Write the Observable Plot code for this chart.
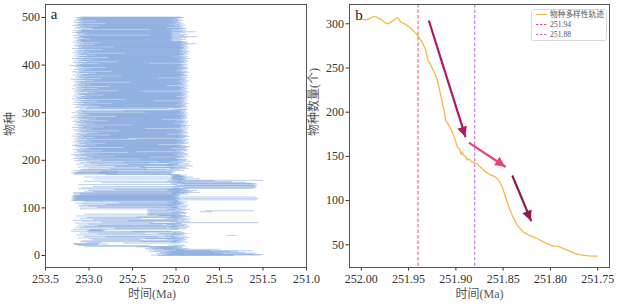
<!DOCTYPE html>
<html><head><meta charset="utf-8">
<script src="https://cdn.jsdelivr.net/npm/d3@7"></script>
<script src="https://cdn.jsdelivr.net/npm/@observablehq/plot@0.6"></script>
<style>
body{margin:0;background:#fff;}
#wrap{position:relative;width:621px;height:308px;overflow:hidden;background:#fff;}
.panel{position:absolute;top:0;}
.panel svg{overflow:visible;background:transparent;}
#legend{position:absolute;left:531px;top:9px;}
</style></head><body><div id="wrap"><div id="pa" class="panel" style="left:0"></div><div id="pb" class="panel" style="left:300px"></div></div>
<script>
// ---------- Panel a: species ranges (FAD = first appearance, LAD = last appearance, Ma) ----------
const speciesFAD = [
252.20,252.28,252.10,252.15,252.22,252.05,252.18,252.12,252.30,252.08,252.25,252.00,252.32,252.14,252.27,252.35,252.20,252.30,
252.45,253.05,252.02,253.12,252.08,253.17,253.15,253.18,252.60,253.02,252.05,253.10,252.40,
253.08,252.03,252.95,252.10,253.00,252.35,253.12,252.06,252.80,253.05,252.12,251.41,253.14,252.04,252.90,252.20,253.10,252.02,253.00,252.50,
253.20,253.02,253.00,252.98,253.18,252.05,252.70,253.10,252.08,253.15,
253.05,252.04,252.90,253.12,252.10,253.00,252.30,253.16,252.00,252.85,252.06,253.08,252.55,253.18,252.03,252.95,252.12,253.10,252.08,253.02,252.45,252.05,253.14,252.20,
252.33,252.32,253.05,252.33,252.30,252.04,252.33,251.72,252.31,251.66,252.33,252.32,252.10,253.10,252.33,252.05,252.90,
253.10,252.06,253.00,253.12,252.10,252.80,253.08,252.04,253.15,252.65,252.08,253.05,252.02,253.18,
253.20,253.18,253.15,253.19,253.17,253.20,253.14,253.18,253.16,253.19,253.15,253.18,253.10,252.05,253.17,
253.10,253.18,252.04,252.95,253.05,252.08,253.00,252.10,252.70,253.12,
252.05,253.08,251.92,252.02,252.95,251.95,252.00,251.90,253.12,252.03,251.93,252.06,252.85,251.98,252.10,253.05,251.97,252.08,
252.04,252.02,252.95,252.06,252.03,252.05,253.05,252.04,252.02,252.06,252.03,252.80,
253.18,253.16,252.88,253.20,253.15,253.12,252.85,253.18,252.08,253.10,
253.08,252.75,252.06,253.00,252.40,253.12,252.70,252.10,253.05,252.90,252.55,253.14,252.08,252.98,253.10,252.60,253.02,252.20,253.16,252.85,
253.12,253.05,252.40,253.18,253.10,252.95,253.15,253.02,252.70,253.16,
253.08,253.20,252.90,253.11,253.04,252.55,253.17,253.09,253.13,252.85,
253.14,253.06,253.18,252.98,253.10,253.01,252.60,253.15,253.12,253.07,
253.19,252.92,253.03,253.16,253.10,252.80,253.13,253.05,253.18,252.97,
253.11,253.15,253.02,252.45,253.17,253.08,253.12,252.93,253.14,253.06,
253.20,253.09,252.75,253.13,253.04,253.16,253.00,252.88,253.11,253.07,
253.15,252.65,253.10,253.18,253.03,252.96,253.12,253.08,253.19,252.82,
253.06,253.14,253.11,252.50,253.17,253.02,253.09,252.94,253.15,253.13,
253.05,253.18,252.78,253.10,253.16,253.01,252.91,253.12,253.07,253.20,
253.14,252.68,253.09,253.17,253.04,252.99,253.13,253.11,253.06,253.19,
252.35,253.08,253.15,252.60,253.12,252.05,251.98,253.10,253.03,252.02,
253.16,253.00,252.87,253.14,253.09,252.95,253.18,253.11,253.05,252.72,
253.13,253.17,253.07,252.90,253.10,253.15,253.02,252.58,253.19,253.12,
253.06,253.14,252.97,253.09,253.18,253.04,252.83,253.11,253.16,253.08,
253.13,252.93,253.01,253.17,253.10,252.66,253.15,253.07,253.12,253.19,
252.89,253.05,253.14,253.09,252.76,253.18,253.11,253.03,253.16,252.98,
253.12,253.08,253.15,252.52,253.10,253.17,253.04,252.94,253.13,253.20,
253.07,252.85,253.16,253.11,253.02,253.14,252.62,253.09,253.18,253.06,
253.13,253.00,252.91,253.15,253.10,253.19,252.73,253.08,253.12,253.04,
253.17,252.96,253.11,253.14,252.80,253.06,253.16,253.09,253.22,253.13,
253.10,253.15,252.88,253.07,253.18,253.12,252.67,253.03,253.16,253.11,
253.08,252.95,253.14,253.19,253.05,252.78,253.13,253.10,253.17,253.02,
252.92,253.15,253.09,253.12,252.58,253.18,253.06,253.14,252.99,253.11,
253.16,253.04,252.84,253.13,253.19,253.08,253.11,252.70,253.15,253.07,
253.12,253.17,252.94,253.10,253.14,253.05,252.86,253.18,253.09,253.13,
253.09,253.16,253.13,253.11,252.98,253.07,253.17,253.14,253.06,253.10,
253.11,253.18,252.29,253.05,253.14,253.12,253.02,253.15,253.19,253.09,
253.13,253.08,253.17,253.08,252.30,253.11,252.95,253.16,253.04,253.14,
253.10,252.88,253.18,253.07,253.12,253.15,252.80,253.09,253.13,253.17,
253.06,253.11,252.92,253.16,253.10,253.14,253.08,253.12,253.05,253.15,253.10
];
const speciesLAD = [
251.33,251.02,251.00,251.10,251.45,251.07,251.20,251.55,251.28,251.38,251.12,251.60,251.90,251.48,251.95,251.85,252.02,251.92,
251.93,251.98,251.88,252.30,251.90,252.90,252.78,252.88,251.95,252.85,251.86,251.99,251.92,
251.96,251.89,252.40,251.87,251.94,251.90,252.00,251.84,252.20,251.97,251.88,251.30,252.02,251.91,251.95,251.86,252.35,251.90,252.00,251.93,
252.05,252.82,252.85,252.80,251.98,251.88,251.95,252.10,251.85,252.00,
251.96,251.84,251.90,252.15,251.87,252.00,251.92,251.94,251.05,252.25,251.83,251.98,251.90,252.05,251.86,251.97,251.82,252.40,251.89,251.95,251.91,251.84,252.00,251.88,
251.92,251.95,252.33,251.88,251.97,251.86,251.90,251.58,251.93,251.10,251.89,252.00,251.83,252.33,251.94,251.88,251.98,
251.97,251.87,252.05,251.99,251.85,251.96,251.93,251.90,252.00,251.94,251.86,251.98,251.92,251.96,
251.98,251.06,252.00,251.95,251.05,251.99,251.96,251.08,252.01,251.97,251.95,251.99,251.94,251.85,251.98,
251.90,251.72,251.86,251.80,251.95,251.84,251.75,251.88,251.92,251.85,
251.10,251.96,251.08,251.07,251.94,251.09,251.07,251.10,251.98,251.06,251.08,251.12,251.90,251.20,251.35,251.95,251.55,250.99,
251.88,251.92,251.72,251.90,251.86,251.93,251.80,251.89,251.91,251.94,251.87,251.95,
252.03,252.05,252.68,252.02,252.06,252.00,252.65,252.04,251.90,252.10,
251.95,252.33,251.85,252.00,251.88,251.92,252.35,251.80,252.02,251.85,251.96,251.98,251.83,252.30,251.94,251.90,252.05,251.82,251.97,251.88,
251.92,251.86,251.97,252.00,251.88,251.95,252.30,251.90,251.84,251.98,
251.93,251.87,252.02,251.85,251.96,251.91,251.89,252.45,251.94,251.87,
251.99,251.85,251.92,251.88,252.05,251.90,251.86,251.97,251.83,251.93,
251.88,251.95,252.20,251.91,251.86,251.99,251.90,251.84,251.94,251.89,
251.92,251.87,251.98,251.85,251.93,252.55,251.90,251.88,251.96,251.84,
251.91,251.86,251.95,251.89,252.10,251.93,251.85,251.97,251.88,251.92,
251.86,251.94,251.90,251.99,251.87,251.92,252.35,251.85,251.95,251.89,
251.93,251.88,251.84,251.96,251.91,251.87,251.94,252.02,251.86,251.90,
251.92,251.85,251.98,251.89,251.93,252.15,251.88,251.91,251.86,251.95,
251.90,251.87,251.94,251.88,251.92,251.85,251.97,251.89,251.93,251.86,
251.90,251.95,251.88,251.92,251.96,251.88,251.86,251.99,252.08,251.87,
251.93,251.97,251.89,251.86,251.91,252.00,251.88,251.94,251.85,251.92,
251.96,251.89,251.87,251.93,252.25,251.90,251.86,251.95,251.91,251.88,
251.94,251.87,251.92,251.99,251.85,251.90,251.96,251.88,251.93,251.86,
251.91,251.95,251.88,251.84,252.40,251.92,251.87,251.97,251.89,251.93,
251.86,251.94,251.90,251.88,251.95,251.85,252.10,251.91,251.87,251.96,
251.89,251.93,251.86,251.92,251.97,251.88,251.84,251.95,251.90,251.87,
251.94,251.89,252.20,251.86,251.92,251.96,251.88,251.85,251.93,251.90,
251.87,251.95,251.91,251.84,251.89,251.94,251.86,252.00,251.92,251.88,
251.96,251.90,251.85,251.93,251.87,251.98,251.91,251.86,251.95,251.89,
251.92,251.86,251.94,252.30,251.88,251.93,251.90,251.85,251.97,251.87,
251.91,251.95,251.88,251.84,251.93,251.89,252.05,251.86,251.92,251.96,
251.87,251.90,251.94,251.85,251.91,251.88,251.96,251.83,251.92,251.86,
251.93,251.89,251.95,251.87,251.91,251.84,251.90,251.94,251.86,251.92,
251.88,251.95,251.90,251.85,251.76,251.93,251.87,251.92,251.86,251.91,
252.04,251.94,252.06,251.88,252.05,251.93,252.03,251.87,252.05,251.75,
252.04,251.90,252.06,251.86,252.03,251.95,252.05,251.89,252.04,251.77,
251.92,252.05,251.88,251.96,252.04,251.91,251.87,251.94,252.10,251.90,
251.96,251.93,252.02,251.89,251.95,252.08,251.91,252.00,251.94,251.97,
252.03,251.95,251.98,251.92,252.05,251.97,251.93,252.00,251.96,251.90,251.94
];
const xTicksA = [253.5, 253.0, 252.5, 252.0, 251.5, 251.0, 250.5];
const xTickLabelsA = ["253.5", "253.0", "252.5", "252.0", "251.5", "251.5", "251.0"];
const yTicksA = [0, 100, 200, 300, 400, 500];

// ---------- Panel b: diversity trajectory ----------
const curveTime = [252.000,251.995,251.990,251.9868,251.984,251.9815,251.979,251.9765,251.9745,251.9726,251.970,251.9673,251.964,251.962,251.960,251.9585,251.955,251.9514,251.9461,251.943,251.9408,251.938,251.9356,251.9321,251.9306,251.9296,251.9268,251.9233,251.9197,251.9172,251.9144,251.912,251.9109,251.9074,251.9038,251.9003,251.8982,251.896,251.8945,251.8932,251.8915,251.8897,251.888,251.8862,251.8835,251.8809,251.8774,251.875,251.8721,251.869,251.8651,251.861,251.858,251.8545,251.8509,251.8474,251.8439,251.8403,251.835,251.830,251.828,251.823,251.8175,251.812,251.8069,251.801,251.7963,251.791,251.7857,251.780,251.775,251.768,251.7596,251.7504];
const curveCount = [305,304.5,306.5,308.5,307.5,306,305,302.5,301,300,301,303,305,307,305,302,300.5,298,293.5,290,287,283,279,271,264,259,254,246,237,225,211,200,191,185,178,167,160,158,152,155,151,150,146,147,144,143,141.5,139,136,133,130,128,126.5,122.7,115,104,92.6,83,72,66,64,61,58.6,56,53,50,48.4,48,45.4,43,40.5,38.7,37.5,37.2];
const eventTimes = [251.94, 251.88];
const eventColors = ["#e6505f", "#b46ac8"];
const xTicksB = [252.00, 251.95, 251.90, 251.85, 251.80, 251.75];
const yTicksB = [50, 100, 150, 200, 250, 300];
const arrowT1 = [251.9286, 251.8862, 251.8403];
const arrowN1 = [303.7, 165.5, 128.4];
const arrowT2 = [251.8897, 251.8474, 251.8202];
const arrowN2 = [171.7, 138.0, 76.7];
const arrowColors = ["#b3175d", "#e8407f", "#8e1b4f"];

const serif = "'Liberation Serif','Times New Roman',serif";
const cjk = "'Liberation Serif','Noto Sans CJK SC',serif";

const species = speciesFAD.map((f, i) => ({s: i, fad: f, lad: speciesLAD[i]}));

const plotA = Plot.plot({
  width: 310, height: 308,
  marginLeft: 45, marginRight: 4, marginTop: 4, marginBottom: 41,
  style: {fontFamily: serif, fontSize: "12px", color: "#333", background: "transparent", overflow: "visible"},
  x: {domain: [253.5, 250.5], ticks: xTicksA, tickFormat: d => xTickLabelsA[xTicksA.indexOf(d)], tickSize: 3.5, tickPadding: 3, label: null},
  y: {domain: [-25.2, 527.3], ticks: yTicksA, tickSize: 3.5, tickPadding: 2, label: null},
  marks: [
    Plot.ruleY(species, {y: "s", x1: "fad", x2: "lad", stroke: "#4f84d0", strokeOpacity: 0.46, strokeWidth: 0.85}),
    Plot.frame({stroke: "#555"}),
    Plot.text(["a"], {frameAnchor: "top-left", dx: 8.5, dy: 10, textAnchor: "middle", lineAnchor: "middle", fontSize: 15, fill: "#222"}),
    Plot.text(["物种"], {frameAnchor: "left", dx: -35, rotate: -90, fontFamily: cjk, fontSize: 12, fill: "#555"}),
    Plot.text(["时间(Ma)"], {frameAnchor: "bottom", dx: -24, dy: 30, fontFamily: cjk, fontSize: 12, fill: "#555"})
  ]
});
document.getElementById("pa").appendChild(plotA);

const curve = curveTime.map((t, i) => ({t, n: curveCount[i]}));
const events = eventTimes.map((t, i) => ({t, c: eventColors[i]}));
const arrows = arrowT1.map((t, i) => ({t1: t, n1: arrowN1[i], t2: arrowT2[i], n2: arrowN2[i], c: arrowColors[i]}));

function arrowHeads(index, scales) {
  const g = d3.create("svg:g");
  arrows.forEach(a => {
    const x0 = scales.x(a.t1), y0 = scales.y(a.n1);
    const x1 = scales.x(a.t2), y1 = scales.y(a.n2);
    const ang = Math.atan2(y1 - y0, x1 - x0);
    const L = 10, W = 5;
    const bx = x1 - L * Math.cos(ang), by = y1 - L * Math.sin(ang);
    const px = -Math.sin(ang) * W, py = Math.cos(ang) * W;
    g.append("path").attr("d", `M${x1},${y1}L${bx + px},${by + py}L${bx - px},${by - py}Z`).attr("fill", a.c);
  });
  return g.node();
}

const plotB = Plot.plot({
  width: 321, height: 308,
  marginLeft: 49, marginRight: 12, marginTop: 4, marginBottom: 41,
  style: {fontFamily: serif, fontSize: "12px", color: "#333", background: "transparent", overflow: "visible"},
  x: {domain: [252.0125, 251.7375], ticks: xTicksB, tickFormat: d3.format(".2f"), tickSize: 3.5, tickPadding: 3, label: null},
  y: {domain: [24.3, 321.8], ticks: yTicksB, tickSize: 3.5, tickPadding: 2, label: null},
  marks: [
    Plot.ruleX(events, {x: "t", stroke: "c", strokeWidth: 1, strokeDasharray: "3.5,2"}),
    Plot.line(curve, {x: "t", y: "n", stroke: "#f3b946", strokeWidth: 1.3}),
    Plot.link(arrows, {x1: "t1", y1: "n1", x2: "t2", y2: "n2", stroke: "c", strokeWidth: 2.2}),
    arrowHeads,
    Plot.frame({stroke: "#555"}),
    Plot.text(["b"], {frameAnchor: "top-left", dx: 9.5, dy: 10.5, textAnchor: "middle", lineAnchor: "middle", fontSize: 15, fill: "#222"}),
    Plot.text(["物种数量(个)"], {frameAnchor: "left", dx: -35, rotate: -90, fontFamily: cjk, fontSize: 12, fill: "#555"}),
    Plot.text(["时间(Ma)"], {frameAnchor: "bottom", dy: 30, fontFamily: cjk, fontSize: 12, fill: "#555"})
  ]
});
document.getElementById("pb").appendChild(plotB);

// ---------- Legend (inside panel b) ----------
const legendItems = ["物种多样性轨迹", "251.94", "251.88"];
const legendColors = ["#f3b946", "#e6505f", "#b46ac8"];
const legendDash = [null, "2.5,1.5", "2.5,1.5"];
const lg = d3.select("#wrap").append("svg").attr("id", "legend").attr("width", 77).attr("height", 33);
lg.append("rect").attr("x", 0.5).attr("y", 0.5).attr("width", 75).attr("height", 31).attr("rx", 2)
  .attr("fill", "white").attr("stroke", "#d8d8d8");
legendItems.forEach((txt, i) => {
  const cy = 5.5 + i * 10;
  lg.append("line").attr("x1", 5).attr("x2", 16).attr("y1", cy).attr("y2", cy)
    .attr("stroke", legendColors[i]).attr("stroke-width", 1.1).attr("stroke-dasharray", legendDash[i]);
  lg.append("text").attr("x", 19).attr("y", cy).attr("dy", "0.35em").attr("font-size", 7.7)
    .attr("font-family", cjk).attr("fill", "#555").text(txt);
});
</script></body></html>
